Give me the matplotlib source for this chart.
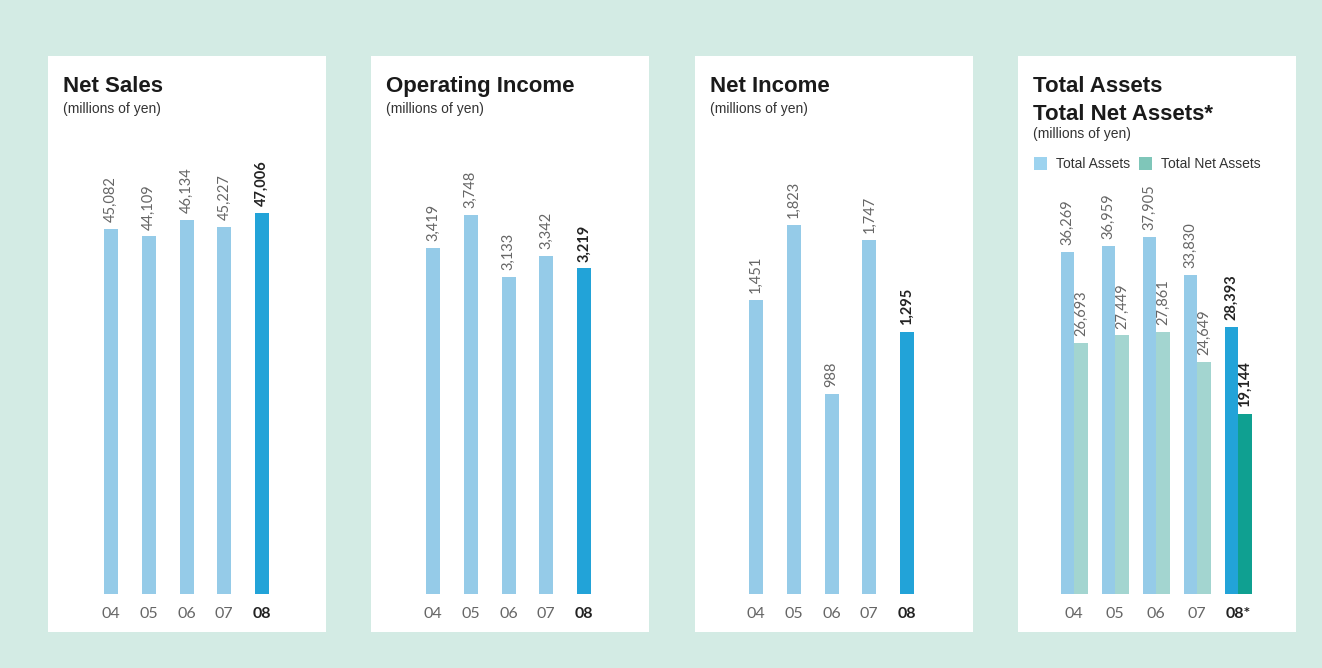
import matplotlib.pyplot as plt
from matplotlib.patches import Rectangle

years = ['04', '05', '06', '07', '08']
net_sales = [45082, 44109, 46134, 45227, 47006]
op_income = [3419, 3748, 3133, 3342, 3219]
net_income = [1451, 1823, 988, 1747, 1295]
total_assets = [36269, 36959, 37905, 33830, 28393]
net_assets = [26693, 27449, 27861, 24649, 19144]

W, H = 1322, 668
bg = '#d3ebe4'
light_blue = '#95cbe8'
dark_blue = '#22a3d8'
light_teal = '#a3d5d0'
dark_teal = '#0fa091'
txt = '#666666'

plt.rcParams['font.family'] = ['Liberation Sans', 'DejaVu Sans']
num_font = ['Lato', 'DejaVu Sans']

fig = plt.figure(figsize=(W / 100, H / 100), dpi=100, facecolor=bg)

panels_x = [48, 371, 695, 1018]
panel_w = 278
panel_top, panel_bot = 56, 632
base_y = 594
ax_top = 150


def fx(px):
    return px / W


def fy(py):
    return 1 - py / H


for L in panels_x:
    fig.patches.append(Rectangle((fx(L), fy(panel_bot)), panel_w / W, (panel_bot - panel_top) / H,
                                 transform=fig.transFigure, facecolor='white', edgecolor='none', zorder=-5))


def make_axes(L, first_px, spacing, vmax, vmax_px):
    ax = fig.add_axes([fx(L), fy(base_y), panel_w / W, (base_y - ax_top) / H], zorder=2)
    ax.set_facecolor('none')
    ax.set_xlim((L - first_px) / spacing, (L + panel_w - first_px) / spacing)
    ax.set_ylim(0, vmax * (base_y - ax_top) / (base_y - vmax_px))
    for s in ax.spines.values():
        s.set_visible(False)
    ax.set_yticks([])
    ax.tick_params(axis='x', length=0, pad=9, labelsize=11.5, labelcolor=txt)
    return ax


def label(ax, x, v, bold):
    ax.annotate(f'{v:,}', (x, v), xytext=(0, 5), textcoords='offset points',
                rotation=90, ha='center', va='bottom', fontsize=10.5, family=num_font,
                color='#222222' if bold else txt, fontweight='bold' if bold else 'normal')


def style_ticks(ax, labels):
    ax.set_xticks(range(len(labels)))
    ax.set_xticklabels(labels, family=num_font)
    last = ax.get_xticklabels()[-1]
    last.set_fontweight('bold')
    last.set_color('#222222')


def simple_panel(L, first_px, vals, vmax_px, title):
    ax = make_axes(L, first_px, 37.75, max(vals), vmax_px)
    xs = list(range(len(vals)))
    cols = [light_blue] * 4 + [dark_blue]
    ax.bar(xs, vals, width=14 / 37.75, color=cols)
    for i, v in enumerate(vals):
        label(ax, i, v, i == 4)
    style_ticks(ax, years)
    fig.text(fx(L + 15), fy(92), title, fontsize=16, fontweight='bold', color='#1a1a1a')
    fig.text(fx(L + 15), fy(113), '(millions of yen)', fontsize=10, color='#333333')


simple_panel(48, 111, net_sales, 213, 'Net Sales')
simple_panel(371, 433, op_income, 215, 'Operating Income')
simple_panel(695, 756, net_income, 225, 'Net Income')

# Total assets panel
L = 1018
ax = make_axes(L, 1074, 41, max(total_assets), 237)
bw = 13.5 / 41
xs = list(range(5))
ax.bar([x - bw / 2 for x in xs], total_assets, width=bw, color=[light_blue] * 4 + [dark_blue])
ax.bar([x + bw / 2 for x in xs], net_assets, width=bw, color=[light_teal] * 4 + [dark_teal])
for i in xs:
    label(ax, i - bw / 2, total_assets[i], i == 4)
    label(ax, i + bw / 2, net_assets[i], i == 4)
style_ticks(ax, years[:4] + ['08*'])
fig.text(fx(L + 15), fy(92), 'Total Assets', fontsize=16, fontweight='bold', color='#1a1a1a')
fig.text(fx(L + 15), fy(120), 'Total Net Assets*', fontsize=16, fontweight='bold', color='#1a1a1a')
fig.text(fx(L + 15), fy(138), '(millions of yen)', fontsize=10, color='#333333')
fig.patches.append(Rectangle((fx(L + 16), fy(170)), 13 / W, 13 / H, transform=fig.transFigure,
                             facecolor='#9dd3ef', edgecolor='none'))
fig.text(fx(L + 38), fy(168), 'Total Assets', fontsize=10, color='#333333')
fig.patches.append(Rectangle((fx(L + 121), fy(170)), 13 / W, 13 / H, transform=fig.transFigure,
                             facecolor='#7fc6b9', edgecolor='none'))
fig.text(fx(L + 143), fy(168), 'Total Net Assets', fontsize=10, color='#333333')

fig.savefig('out.png', dpi=100, facecolor=bg)
